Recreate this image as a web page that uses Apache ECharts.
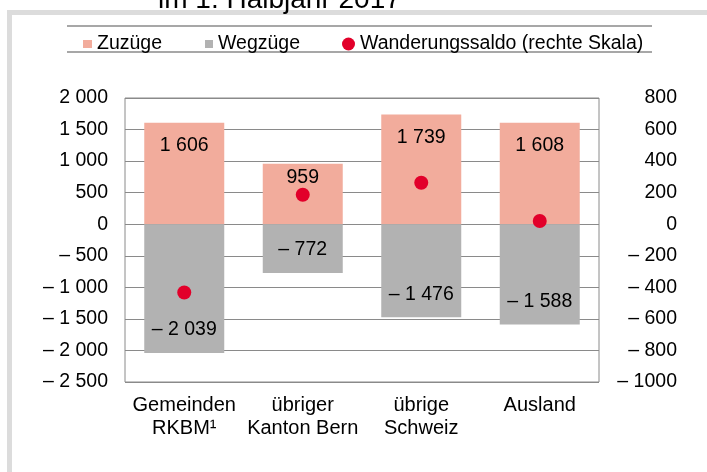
<!DOCTYPE html>
<html>
<head>
<meta charset="utf-8">
<script src="https://cdn.jsdelivr.net/npm/echarts@6/dist/echarts.min.js"></script>
<style>
  html, body { margin: 0; padding: 0; background: #fff; }
  #chart { width: 707px; height: 472px; }
</style>
</head>
<body>
<div id="chart"></div>
<script>
const categories = ["Gemeinden\nRKBM\u00b9", "übriger\nKanton Bern", "übrige\nSchweiz", "Ausland"];
const zuzuege = [1606, 959, 1739, 1608];
const wegzuege = [-2039, -772, -1476, -1588];
const saldo = [-433, 187, 263, 20];
const leftTicks = ["– 2 500", "– 2 000", "– 1 500", "– 1 000", "– 500", "0", "500", "1 000", "1 500", "2 000"];
const rightTicks = ["– 1000", "– 800", "– 600", "– 400", "– 200", "0", "200", "400", "600", "800"];

const FONT = "'Liberation Sans', Arial, sans-serif";

function fmt(v) {
  const s = String(Math.abs(v)).replace(/\B(?=(\d{3})+(?!\d))/g, " ");
  return v < 0 ? "– " + s : s;
}

const chart = echarts.init(document.getElementById("chart"));

const legendText = { fontSize: 19.5, fontFamily: FONT, color: "#000" };

chart.setOption({
  animation: false,
  textStyle: { fontFamily: FONT, color: "#000" },
  grid: {
    left: 125, right: 108, top: 98, bottom: 90,
    show: true, borderColor: "#8a8a8a", borderWidth: 1, backgroundColor: "transparent",
  },
  graphic: [
    { type: "rect", shape: { x: 7, y: 10, width: 5, height: 470 }, style: { fill: "#dcdcdc" } },
    { type: "rect", shape: { x: 7, y: 10, width: 710, height: 5 }, style: { fill: "#dcdcdc" } },
    {
      type: "text", x: 158, y: 0,
      style: { text: "im 1. Halbjahr 2017", font: "28px " + FONT, fill: "#000", verticalAlign: "middle" },
    },
    { type: "line", shape: { x1: 67, y1: 26, x2: 652, y2: 26 }, style: { stroke: "#8a8a8a", lineWidth: 1.5 } },
    { type: "line", shape: { x1: 67, y1: 52, x2: 652, y2: 52 }, style: { stroke: "#8a8a8a", lineWidth: 1.5 } },
  ],
  legend: [
    {
      data: ["Zuzüge"], left: 78, top: 29, itemWidth: 9, itemHeight: 8, icon: "rect",
      textStyle: legendText,
    },
    {
      data: ["Wegzüge"], left: 200, top: 29, itemWidth: 8, itemHeight: 8, icon: "rect",
      textStyle: legendText,
    },
    {
      data: ["Wanderungssaldo (rechte Skala)"], left: 337, top: 29, itemWidth: 13, itemHeight: 13, icon: "circle",
      textStyle: legendText,
    },
  ],
  xAxis: {
    type: "category",
    data: categories,
    axisLine: { show: false },
    axisTick: { show: false },
    axisLabel: { fontSize: 20, fontFamily: FONT, lineHeight: 23, color: "#000", margin: 12, interval: 0 },
  },
  yAxis: [
    {
      type: "value", min: -2500, max: 2000, interval: 500,
      axisLine: { show: false }, axisTick: { show: false },
      splitLine: { lineStyle: { color: "#8a8a8a", width: 1 } },
      axisLabel: {
        fontSize: 19.5, color: "#000", margin: 17,
        formatter: (v) => leftTicks[Math.round((v + 2500) / 500)],
      },
    },
    {
      type: "value", min: -1000, max: 800, interval: 200,
      axisLine: { show: false }, axisTick: { show: false }, splitLine: { show: false },
      axisLabel: {
        fontSize: 19.5, color: "#000", margin: 78, align: "right",
        formatter: (v) => rightTicks[Math.round((v + 1000) / 200)],
      },
    },
  ],
  series: [
    {
      name: "Zuzüge", type: "bar", stack: "s", barWidth: 80,
      itemStyle: { color: "#f2ac9c" },
      label: {
        show: true, position: "insideTop", distance: 13, fontSize: 19.5, color: "#000",
        formatter: (p) => fmt(p.value),
      },
      data: zuzuege.map((v, i) => (i === 1 ? { value: v, label: { distance: 4 } } : v)),
    },
    {
      name: "Wegzüge", type: "bar", stack: "s", barWidth: 80,
      itemStyle: { color: "#b2b2b2" },
      label: {
        show: true, position: "insideBottom", distance: 13, fontSize: 19.5, color: "#000",
        formatter: (p) => fmt(p.value),
      },
      data: wegzuege,
    },
    {
      name: "Wanderungssaldo (rechte Skala)", type: "scatter", yAxisIndex: 1,
      symbol: "circle", symbolSize: 14, z: 5,
      itemStyle: { color: "#e2002a", opacity: 1 },
      data: saldo,
    },
  ],
});
</script>
</body>
</html>
